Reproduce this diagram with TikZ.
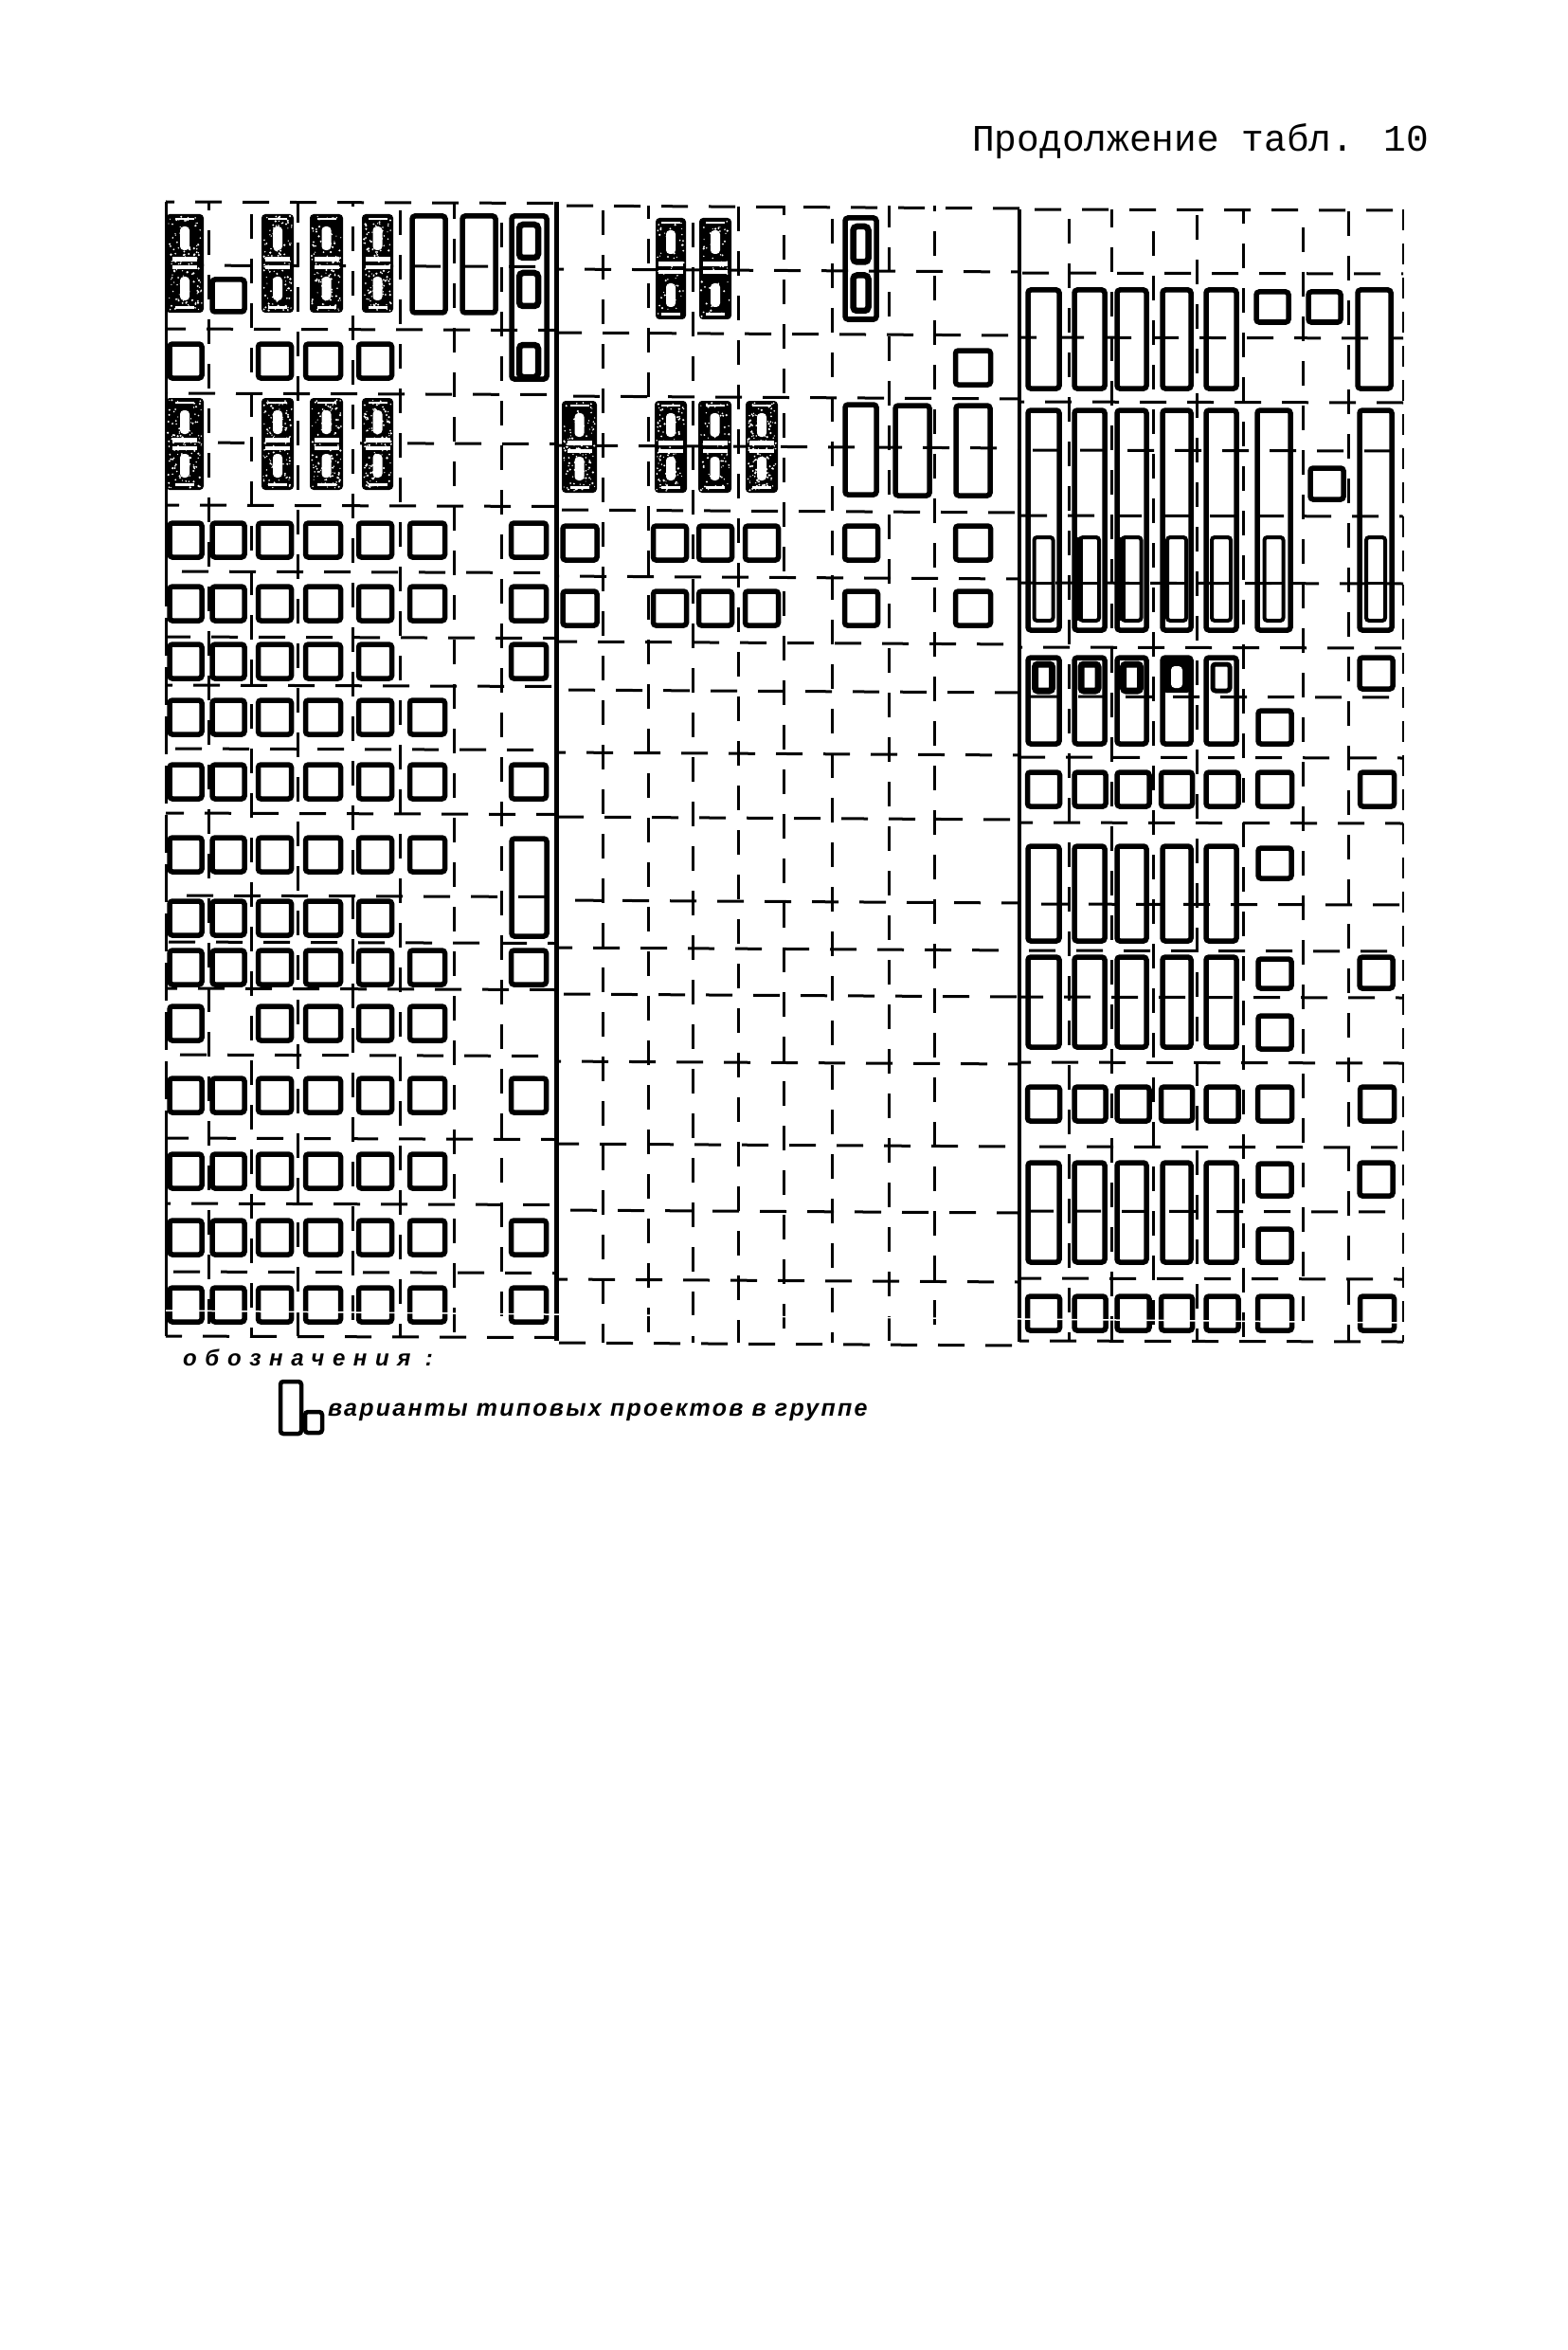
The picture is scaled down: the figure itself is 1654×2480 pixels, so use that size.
\documentclass[tikz,border=0pt]{standalone}
\usepackage{fontspec}
\setmainfont{Liberation Serif}
\newfontfamily\titlefont{Liberation Mono}
\newfontfamily\legendfont[LetterSpace=36,BoldItalicFont={Liberation Sans Bold Italic}]{Liberation Sans}
\newfontfamily\legendtextfont[LetterSpace=9,BoldItalicFont={Liberation Sans Bold Italic}]{Liberation Sans}
\tikzset{
  hgrid/.style={line width=3pt,dash pattern=on 28pt off 22pt},
  vgrid/.style={line width=3pt,dash pattern=on 26pt off 21pt},
  sepline/.style={line width=5pt},
  sidedash/.style={line width=2.5pt,dash pattern=on 22pt off 14pt},
  boxline/.style={line width=5.5pt,rounded corners=3pt},
  innerline/.style={line width=4pt,rounded corners=3pt},
  thickinner/.style={line width=6.5pt,rounded corners=4pt},
  darkfill/.style={fill=black,rounded corners=4pt},
  slotfill/.style={fill=white,rounded corners=4pt},
  titletext/.style={inner sep=0pt,anchor=base west,font=\titlefont\fontsize{39.5}{42}\selectfont},
  legendhead/.style={inner sep=0pt,anchor=base west,font=\legendfont\bfseries\itshape\fontsize{24}{26}\selectfont},
  legendbody/.style={inner sep=0pt,anchor=base west,font=\legendtextfont\bfseries\itshape\fontsize{25}{28}\selectfont},
}
\newcommand\cbox[4]{\draw[boxline] (#1-#3,#2-#4) rectangle (#1+#3,#2+#4);}
\newcommand\rowsq[2]{\foreach \cx/\hw in #2 {\cbox{\cx}{#1}{\hw}{18}}}
\newcommand\ebox[4]{\draw[boxline] (#1,#3) rectangle (#2,#4);}
\newcommand\darkbox[5]{%
  \fill[darkfill] (#1,#3) rectangle (#2,#4);
  \pgfmathsetmacro\mx{(#1+#2)/2}
  \pgfmathsetmacro\my{(#3+#4)/2}
  \fill[slotfill] (\mx-5,#3+13) rectangle (\mx+5,#3+38);
  \fill[slotfill] (\mx-5,#4-38) rectangle (\mx+5,#4-13);
  \fill[white] (\mx-13,\my-7) rectangle (\mx+13,\my-2);
  \fill[white] (\mx-13,\my+2) rectangle (\mx+13,\my+6);
  \fill[white] (\mx-10,#4-7) rectangle (\mx+10,#4-4);
  \fill[white] (\mx-10,#3+4) rectangle (\mx+10,#3+6);
  \foreach \k in {1,...,#5} {
    \pgfmathsetmacro\rx{#1+2+rnd*(#2-#1-4)}
    \pgfmathsetmacro\ry{#3+2+rnd*(#4-#3-4)}
    \pgfmathsetmacro\rr{0.6+rnd*0.7}
    \fill[white] (\rx,\ry) circle (\rr pt);
  }
}
\newcommand\nestbox[4]{%
  \ebox{#1}{#2}{#3}{#4}
  \pgfmathsetmacro\mx{(#1+#2)/2}
  \pgfmathsetmacro\my{(#3+#4)/2}
  \draw[thickinner] (\mx-8,#3+9) rectangle (\mx+8,\my-7);
  \draw[thickinner] (\mx-8,\my+7) rectangle (\mx+8,#4-9);
}
\newcommand\footbox[2]{%
  \ebox{#1}{#2}{433}{665}
  \pgfmathsetmacro\mx{(#1+#2)/2}
  \draw[innerline] (\mx-10,567) rectangle (\mx+10,655);
  \draw[line width=3pt] (\mx-10,615) -- (\mx+10,615);
}
\newcommand\headbox[3]{%
  \ebox{#1}{#2}{694}{785}
  \pgfmathsetmacro\mx{(#1+#2)/2}
  \draw[line width=#3pt,rounded corners=3pt] (\mx-9,701) rectangle (\mx+9,729);
}
\begin{document}
\begin{tikzpicture}[x=1pt,y=-1pt]
\useasboundingbox (0,0) rectangle (1654,2480);

% ---- horizontal grid lines (left block / middle block / right block)
\foreach \a/\b/\c [count=\i] in {
 213/217/221, 280/284/288, 347/351/356, 415/418/424, 467/470/475, 533/538/544,
 603/608/615, 672/677/683, 723/728/735, 790/794/799, 858/862/868, 945/950/954,
 994/1000/1003, 1043/1049/1052, 1113/1120/1121, 1201/1207/1210, 1270/1277/1278,
 1342/1350/1349, 1410/1417/1415} {
  \pgfmathsetmacro\pa{mod(\i*19,50)}
  \pgfmathsetmacro\pb{mod(\i*31+8,50)}
  \pgfmathsetmacro\pc{mod(\i*13+21,50)}
  \draw[hgrid,dash phase=\pa pt] (175,\a) -- (587,\a+1.5);
  \draw[hgrid,dash phase=\pb pt] (587,\b) -- (1076,\b+3);
  \draw[hgrid,dash phase=\pc pt] (1076,\c) -- (1481,\c+1);
}
% ---- vertical grid lines
\foreach \x/\t/\b [count=\i] in {
 220/213/1411, 265/213/1411, 314/213/1411, 372/213/1411, 422/213/1411, 479/213/1411, 529/213/1411,
 636/217/1417, 684/217/1417, 731/217/1417, 779/217/1417, 827/217/1417, 878/217/1417, 938/217/1417, 986/217/1417,
 1128/221/1416, 1173/221/1416, 1217/221/1416, 1263/221/1416, 1312/221/1416, 1375/221/1416, 1423/221/1416} {
  \pgfmathsetmacro\pv{mod(\i*17,47)}
  \draw[vgrid,dash phase=\pv pt] (\x,\t) -- (\x,\b);
}
% ---- block rules
\draw[line width=3pt] (175,213) -- (175,600);
\draw[line width=3pt,dash pattern=on 40pt off 12pt] (175,600) -- (175,1200);
\draw[line width=3pt] (175,1200) -- (175,1410);
\draw[sepline] (587,213) -- (587,1415);
\draw[line width=4pt] (1076,221) -- (1076,1416);
\draw[sidedash] (1481,221) -- (1481,1416);

% ---- block 1
\def\full{196/17,241/17,290/17.5,341/18.5,396/17.5,451/18.5,558/18.5}
\def\six{196/17,241/17,290/17.5,341/18.5,396/17.5,451/18.5}
\def\five{196/17,241/17,290/17.5,341/18.5,396/17.5}
\def\fiveE{196/17,241/17,290/17.5,341/18.5,396/17.5,558/18.5}
\def\nocB{196/17,290/17.5,341/18.5,396/17.5,451/18.5}
\def\four{196/17,290/17.5,341/18.5,396/17.5}
\foreach \yy in {570,637,825,1021,1156,1306,1377} {\rowsq{\yy}{\full}}
\foreach \yy in {757,902,1236} {\rowsq{\yy}{\six}}
\rowsq{969}{\five}
\rowsq{698}{\fiveE}
\rowsq{1080}{\nocB}
\rowsq{381}{\four}
\cbox{241}{312}{17}{17}
\pgfmathsetseed{1234}
\foreach \xa/\xb in {175/215,276/310,327/362,382/415} {
  \darkbox{\xa}{\xb}{226}{330}{130}
  \darkbox{\xa}{\xb}{420}{517}{130}
}
\ebox{435}{470}{228}{330}
\ebox{488}{523}{228}{330}
\ebox{540}{577}{228}{400}
\foreach \ya/\yb in {237/272,288/323,364/398} {\draw[thickinner] (548,\ya) rectangle (568,\yb);}
\ebox{540}{577}{885}{988}

% ---- block 2
\def\midrow{612/18,707/17.5,755/17.5,804/17.5,909/17.5,1027/18.5}
\rowsq{573}{\midrow}
\rowsq{642}{\midrow}
\cbox{1027}{388}{18.5}{18}
\darkbox{692}{724}{230}{337}{60}
\darkbox{738}{772}{230}{337}{60}
\nestbox{892}{925}{230}{337}
\darkbox{593}{630}{423}{520}{130}
\darkbox{691}{725}{423}{520}{100}
\darkbox{737}{772}{423}{520}{70}
\darkbox{787}{821}{423}{520}{160}
\ebox{892}{925}{427}{522}
\ebox{945}{981}{428}{523}
\ebox{1009}{1045}{428}{523}

% ---- block 3
\def\tops{1085/1118,1134/1166,1179/1210,1227/1257,1273/1305}
\foreach \xa/\xb in \tops {
  \ebox{\xa}{\xb}{306}{410}
  \ebox{\xa}{\xb}{893}{993}
  \ebox{\xa}{\xb}{1010}{1105}
  \ebox{\xa}{\xb}{1227}{1332}
  \footbox{\xa}{\xb}
}
\ebox{1433}{1468}{306}{410}
\footbox{1327}{1362}
\footbox{1435}{1469}
\fill (1136,567) rectangle (1143,655);
\fill (1181,567) rectangle (1188,655);
\headbox{1085}{1118}{7}
\headbox{1134}{1166}{7}
\headbox{1179}{1210}{7}
\ebox{1227}{1257}{694}{785}
\fill[darkfill] (1227,694) rectangle (1257,731);
\fill[slotfill] (1236,703) rectangle (1248,726);
\headbox{1273}{1305}{5}
% squares, third block
\def\lastrow{1101.5/17,1150.5/16.5,1196/17,1242/16.5,1290/17,1345.5/18,1453.5/18}
\rowsq{833}{\lastrow}
\rowsq{1165}{\lastrow}
\rowsq{1386}{\lastrow}
\foreach \xa/\xb/\ya/\yb in {
 1326/1360/308/340, 1381/1415/308/340, 1383/1418/494/527,
 1328/1363/750/785, 1435/1470/694/727,
 1328/1363/895/927, 1328/1363/1012/1043, 1328/1363/1072/1107, 1435/1470/1010/1043,
 1328/1363/1228/1262, 1328/1363/1297/1332, 1435/1470/1227/1262} {
  \ebox{\xa}{\xb}{\ya}{\yb}
}
% scan streak across the bottom row
\draw[white,line width=1.5pt] (175,1383) -- (1481,1396);

% ---- texts
\node[titletext] (title) at (1026,160) {Продолжение табл. 10};
\node[legendhead] (legendtitle) at (193,1441) {обозначения :};
\draw[line width=4.5pt,rounded corners=3pt] (296,1458) rectangle (318,1513);
\draw[line width=4.5pt,rounded corners=3pt] (322,1490) rectangle (340,1512);
\node[legendbody] (legendtext) at (346,1494) {варианты типовых проектов в группе};
\end{tikzpicture}
\end{document}
